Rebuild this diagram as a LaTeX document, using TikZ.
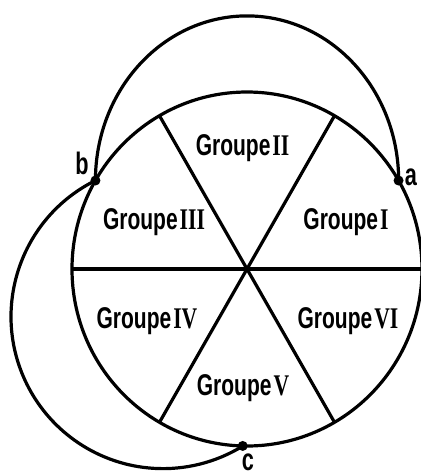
\documentclass[tikz,border=0pt]{standalone}
\usepackage{fontspec}
\newfontfamily\grpsans{Liberation Sans}[FakeStretch=0.7]
\newfontfamily\grpnum{Liberation Serif}[FakeStretch=0.72]
\newcommand{\groupe}[1]{{\grpsans\bfseries Groupe}\kern1pt{\grpnum\bfseries #1}}

\begin{document}
\begin{tikzpicture}[
  line width=1.6pt,
  grp/.style={font=\fontsize{15}{16}\selectfont,anchor=base,inner sep=0pt},
  ptlbl/.style={font=\fontsize{15.5}{16}\selectfont\grpsans\bfseries,inner sep=0pt},
  dot/.style={fill=black}
]
\useasboundingbox (-123.5pt,-102pt) rectangle (87pt,134.5pt);

% the wheel of six groups
\coordinate (O) at (0,0);
\draw (O) ellipse [x radius=87.5pt,y radius=88.5pt];
\draw (180:87.5pt and 88.5pt) -- (0:87.5pt and 88.5pt);
\draw (120:87.5pt and 88.5pt) -- (300:87.5pt and 88.5pt);
\draw (60:87.5pt and 88.5pt) -- (240:87.5pt and 88.5pt);

\node[grp] (g1) at (49.5pt,20pt) {\groupe{I}};
\node[grp] (g2) at (-2.25pt,57pt) {\groupe{II}};
\node[grp] (g3) at (-46.5pt,20pt) {\groupe{III}};
\node[grp] (g4) at (-50pt,-29.5pt) {\groupe{IV}};
\node[grp] (g5) at (-2pt,-63pt) {\groupe{V}};
\node[grp] (g6) at (50.5pt,-29.5pt) {\groupe{VI}};

% points on the rim
\coordinate (a) at (30:87.5pt and 88.5pt);
\coordinate (b) at (150:87.5pt and 88.5pt);
\coordinate (c) at (268.6:87.5pt and 88.5pt);

% outer arcs
\draw (b) arc [start angle=180,end angle=0,x radius=75.8pt,y radius=82.3pt];
\draw (b) arc [start angle=116.4,end angle=301.7,radius=76pt];

\fill[dot] (a) circle (2.5pt);
\fill[dot] (b) circle (2.5pt);
\fill[dot] (c) circle (2.5pt);
\node[ptlbl] (la) at (82pt,46pt) {a};
\node[ptlbl] (lb) at (-82.5pt,53pt) {b};
\node[ptlbl] (lc) at (0.5pt,-96.8pt) {c};
\end{tikzpicture}
\end{document}
